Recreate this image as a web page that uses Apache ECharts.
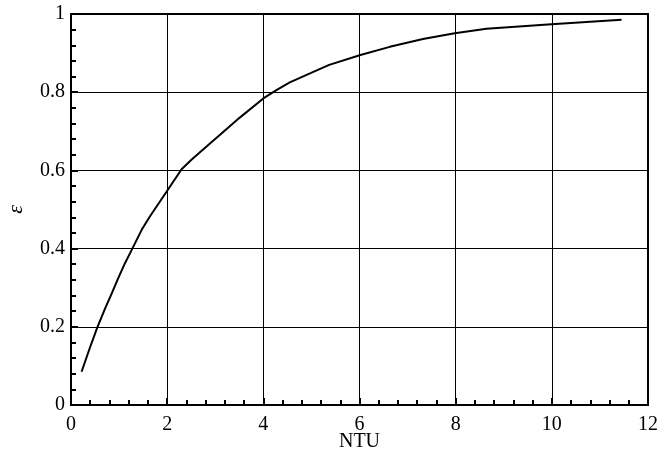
<!DOCTYPE html>
<html><head><meta charset="utf-8">
<script src="https://cdn.jsdelivr.net/npm/echarts@6/dist/echarts.min.js"></script>
<style>html,body{margin:0;padding:0;background:#fff}#c{width:672px;height:468px}</style>
</head><body><div id="c"></div>
<script>
const ntu = [0.22, 0.40, 0.55, 0.71, 0.85, 0.98, 1.12, 1.26, 1.47, 1.64, 1.99, 2.30, 2.51, 2.89, 3.10, 3.51, 4.00, 4.28, 4.55, 4.97, 5.37, 6.02, 6.63, 7.32, 7.98, 8.64, 9.99, 11.45];
const eff = [0.085, 0.149, 0.199, 0.247, 0.286, 0.324, 0.362, 0.396, 0.448, 0.482, 0.546, 0.603, 0.628, 0.669, 0.691, 0.735, 0.784, 0.806, 0.825, 0.848, 0.870, 0.895, 0.916, 0.936, 0.951, 0.962, 0.974, 0.985];
const xName = 'NTU';
const yName = 'ε';

const font = 'Liberation Serif';
const chart = echarts.init(document.getElementById('c'));
chart.setOption({
  animation: false,
  grid: {left: 71, right: 24, top: 14, bottom: 63, containLabel: false, outerBoundsMode: 'none',
         show: true, borderColor: '#000', borderWidth: 2, backgroundColor: 'transparent'},
  xAxis: {
    type: 'value', min: 0, max: 12, interval: 2,
    name: xName, nameLocation: 'middle', nameGap: 27, nameMoveOverlap: false,
    nameTextStyle: {fontFamily: font, fontSize: 20, color: '#000'},
    axisLine: {show: true, lineStyle: {color: '#000', width: 2}},
    axisTick: {show: true, inside: true, length: 7, lineStyle: {color: '#000', width: 2}},
    minorTick: {show: true, splitNumber: 5, length: 5, lineStyle: {color: '#000', width: 2}},
    axisLabel: {fontFamily: font, fontSize: 20, color: '#000', margin: 10},
    splitLine: {show: true, lineStyle: {color: '#000', width: 1}}
  },
  yAxis: {
    type: 'value', min: 0, max: 1, interval: 0.2,
    name: yName, nameLocation: 'middle', nameGap: 44, nameRotate: 90, nameMoveOverlap: false,
    nameTextStyle: {fontFamily: font, fontSize: 22, fontStyle: 'italic', color: '#000'},
    axisLine: {show: true, lineStyle: {color: '#000', width: 2}},
    axisTick: {show: true, inside: true, length: 7, lineStyle: {color: '#000', width: 2}},
    minorTick: {show: true, splitNumber: 5, length: 5, lineStyle: {color: '#000', width: 2}},
    axisLabel: {fontFamily: font, fontSize: 20, color: '#000', margin: 6, formatter: v => String(+v.toFixed(1))},
    splitLine: {show: true, lineStyle: {color: '#000', width: 1}}
  },
  series: [{
    type: 'line', data: ntu.map((x, i) => [x, eff[i]]),
    showSymbol: false, smooth: false,
    lineStyle: {color: '#000', width: 2}
  }]
});
</script></body></html>
